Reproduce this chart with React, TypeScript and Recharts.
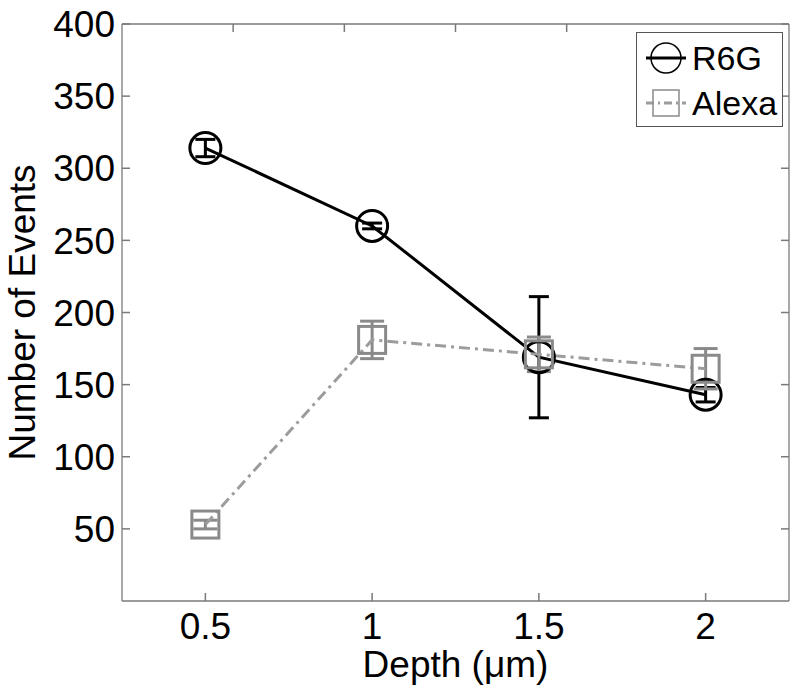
import React from "react";
import {
  ComposedChart,
  Line,
  XAxis,
  YAxis,
  ErrorBar,
  Legend,
  Label,
} from "recharts";

const depths = [0.5, 1, 1.5, 2];
const r6gEvents = [314, 260, 169, 143];
const r6gError = [6, 2, 42, 5];
const alexaEvents = [53, 181, 171, 161];
const alexaError = [3, 13, 12, 14];
const xTicks = [0.5, 1, 1.5, 2];
const yTicks = [50, 100, 150, 200, 250, 300, 350, 400];

const data = depths.map((d, i) => ({
  depth: d,
  r6g: r6gEvents[i],
  r6gErr: r6gError[i],
  alexa: alexaEvents[i],
  alexaErr: alexaError[i],
}));

const FONT = '"Liberation Sans", Arial, Helvetica, sans-serif';
const AXIS = "#7a7a7a";
const ALEXA_LINE = "#9c9c9c";
const ALEXA_MARK = "#8a8a8a";
const tickLineStyle = { stroke: AXIS, strokeWidth: 1.5 };

const CircleDot = (props: any) => {
  const { cx, cy, index } = props;
  if (cx == null || cy == null) return <g key={`c-${index}`} />;
  return (
    <circle key={`c-${index}`} cx={cx} cy={cy} r={15.5} fill="none" stroke="#000" strokeWidth={3} />
  );
};

const SquareDot = (props: any) => {
  const { cx, cy, index } = props;
  if (cx == null || cy == null) return <g key={`s-${index}`} />;
  return (
    <rect
      key={`s-${index}`}
      x={cx - 13.5}
      y={cy - 13.5}
      width={27}
      height={27}
      fill="none"
      stroke={ALEXA_MARK}
      strokeWidth={3}
    />
  );
};

const NoTick = () => <g />;

const YTitle = (props: any) => {
  const vb = props.viewBox || {};
  const cx = vb.x + 22;
  const cy = vb.y + vb.height / 2;
  return (
    <text
      x={cx}
      y={cy}
      transform={`rotate(-90, ${cx}, ${cy})`}
      textAnchor="middle"
      dominantBaseline="central"
      fontSize={37}
      fontFamily={FONT}
      fill="#000"
    >
      Number of Events
    </text>
  );
};

const XTitle = (props: any) => {
  const vb = props.viewBox || {};
  return (
    <text
      x={vb.x + vb.width / 2}
      y={vb.y + vb.height - 18}
      textAnchor="middle"
      fontSize={37}
      fontFamily={FONT}
      fill="#000"
    >
      Depth (μm)
    </text>
  );
};

const LegendBox = () => (
  <div
    style={{
      width: 147,
      height: 95,
      boxSizing: "border-box",
      border: "1px solid #555",
      background: "#fff",
      fontFamily: FONT,
      fontSize: 34,
      color: "#000",
    }}
  >
    <div style={{ display: "flex", alignItems: "center", height: 46, marginTop: 2 }}>
      <svg width={50} height={40} style={{ marginLeft: 4 }}>
        <line x1={5} y1={20} x2={45} y2={20} stroke="#000" strokeWidth={3} />
        <circle cx={25} cy={20} r={15} fill="none" stroke="#000" strokeWidth={1.5} />
      </svg>
      <span style={{ marginLeft: 1, lineHeight: "34px" }}>R6G</span>
    </div>
    <div style={{ display: "flex", alignItems: "center", height: 44 }}>
      <svg width={50} height={40} style={{ marginLeft: 4 }}>
        <line x1={5} y1={20} x2={45} y2={20} stroke={ALEXA_LINE} strokeWidth={3} strokeDasharray="8 4 2 4" />
        <rect x={12} y={7} width={26} height={26} fill="none" stroke={ALEXA_MARK} strokeWidth={1.5} />
      </svg>
      <span style={{ marginLeft: 1, lineHeight: "34px" }}>Alexa</span>
    </div>
  </div>
);

export default function App() {
  return (
    <div style={{ position: "absolute", left: 0, top: 0, width: 800, height: 695, background: "#fff" }}>
      <ComposedChart
        width={800}
        height={695}
        data={data}
        margin={{ top: 23, right: 10, bottom: 0, left: 0 }}
      >
        <XAxis
          dataKey="depth"
          type="number"
          domain={[0.25, 2.25]}
          ticks={xTicks}
          allowDataOverflow
          height={94}
          stroke={AXIS}
          strokeWidth={1.3}
          tickLine={tickLineStyle}
          tickSize={-8}
          tickMargin={20}
          tick={{ fontSize: 37, fontFamily: FONT, fill: "#000" }}
        >
          <Label content={<XTitle />} />
        </XAxis>
        <XAxis
          xAxisId="top"
          orientation="top"
          type="number"
          domain={[0.25, 2.25]}
          ticks={xTicks}
          allowDataOverflow
          height={1}
          stroke={AXIS}
          strokeWidth={1.3}
          tickLine={tickLineStyle}
          tickSize={-8}
          tick={NoTick}
        />
        <YAxis
          type="number"
          domain={[0, 400]}
          ticks={yTicks}
          allowDataOverflow
          width={122}
          stroke={AXIS}
          strokeWidth={1.3}
          tickLine={tickLineStyle}
          tickSize={-8}
          tickMargin={15}
          tick={{ fontSize: 37, fontFamily: FONT, fill: "#000" }}
        >
          <Label content={<YTitle />} />
        </YAxis>
        <YAxis
          yAxisId="right"
          orientation="right"
          type="number"
          domain={[0, 400]}
          ticks={yTicks}
          allowDataOverflow
          width={1}
          stroke={AXIS}
          strokeWidth={1.3}
          tickLine={tickLineStyle}
          tickSize={-8}
          tick={NoTick}
        />
        <Line
          dataKey="r6g"
          type="linear"
          stroke="#000"
          strokeWidth={3}
          dot={CircleDot}
          activeDot={false}
          isAnimationActive={false}
        >
          <ErrorBar dataKey="r6gErr" direction="y" width={10} stroke="#000" strokeWidth={3} />
        </Line>
        <Line
          dataKey="alexa"
          type="linear"
          stroke={ALEXA_LINE}
          strokeWidth={3}
          strokeDasharray="11 5 3 5"
          dot={SquareDot}
          activeDot={false}
          isAnimationActive={false}
        >
          <ErrorBar dataKey="alexaErr" direction="y" width={12} stroke={ALEXA_MARK} strokeWidth={3} />
        </Line>
        <Legend
          layout="vertical"
          align="center"
          verticalAlign="middle"
          content={<LegendBox />}
          wrapperStyle={{ position: "absolute", left: 636, top: 32, width: 147, height: 95 }}
        />
      </ComposedChart>
    </div>
  );
}
